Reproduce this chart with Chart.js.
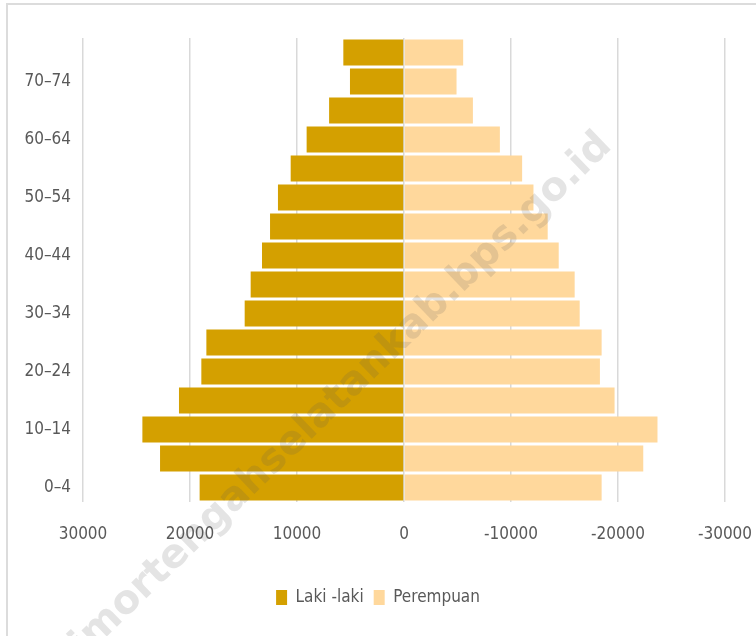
<!DOCTYPE html>
<html>
<head>
<meta charset="utf-8">
<script src="https://cdn.jsdelivr.net/npm/chart.js@4/dist/chart.umd.min.js"></script>
<style>
  html, body { margin: 0; padding: 0; background: #fff; }
  #wrap { position: relative; width: 756px; height: 636px; overflow: hidden; }
  #frame { position: absolute; left: 6px; top: 3px; width: 800px; height: 700px;
           border-left: 2px solid #dcdcdc; border-top: 2px solid #dcdcdc; }
  canvas { position: absolute; left: 0; top: 0; }
</style>
</head>
<body>
<div id="wrap">
  <div id="frame"></div>
  <canvas id="pyramid" width="756" height="636"></canvas>
</div>
<script>
// age groups, bottom to top
const ageGroups = ["0–4","5–9","10–14","15–19","20–24","25–29","30–34","35–39",
                   "40–44","45–49","50–54","55–59","60–64","65–69","70–74","75+"];
// male shown to the left (positive), female to the right (negative)
const lakiLaki  = [19100, 22800, 24450, 21030, 18940, 18470, 14890, 14330,
                   13270, 12520, 11780, 10590, 9100, 7000, 5050, 5670];
const perempuan = [-18470, -22360, -23690, -19680, -18310, -18470, -16420, -15950,
                   -14460, -13430, -12100, -11040, -8960, -6440, -4910, -5530];
const xTicks = [30000, 20000, 10000, 0, -10000, -20000, -30000];

const FONT = "'DejaVu Sans Condensed', 'DejaVu Sans', sans-serif";
const GREY = "#595959";

const watermark = {
  id: "watermark",
  afterDraw(chart) {
    const c = chart.ctx;
    c.save();
    c.translate(606, 140);
    c.rotate(-44 * Math.PI / 180);
    c.font = "bold 40px 'DejaVu Sans', sans-serif";
    c.fillStyle = "rgba(90,90,90,0.16)";
    c.textAlign = "right";
    c.textBaseline = "middle";
    c.fillText("timortengahselatankab.bps.go.id", 0, 0);
    c.restore();
  }
};

new Chart(document.getElementById("pyramid"), {
  type: "bar",
  data: {
    labels: ageGroups,
    datasets: [
      { label: "Laki -laki", data: lakiLaki, backgroundColor: "#d4a000" },
      { label: "Perempuan", data: perempuan, backgroundColor: "#ffd89c" }
    ]
  },
  options: {
    indexAxis: "y",
    responsive: false,
    animation: false,
    devicePixelRatio: 1,
    barPercentage: 0.9,
    categoryPercentage: 1,
    layout: { padding: { top: 38, right: 0, left: 0, bottom: 20 } },
    scales: {
      x: {
        stacked: true,
        reverse: true,
        min: -30000,
        max: 30000,
        afterBuildTicks: s => { s.ticks = xTicks.map(v => ({ value: v })); },
        afterFit: s => { s.height = 77; s.paddingRight = 31; },
        border: { display: false },
        grid: { color: "#d9d9d9", lineWidth: 1.5, drawTicks: false },
        ticks: {
          color: GREY, padding: 22,
          font: { family: FONT, size: 17 },
          callback: v => String(v)
        }
      },
      y: {
        stacked: true,
        reverse: true,
        afterFit: s => { s.width = 83; },
        border: { display: false },
        grid: { display: false },
        ticks: {
          color: GREY, padding: 4, autoSkip: false,
          font: { family: FONT, size: 17 },
          callback: (v, i) => i % 2 === 0 ? ageGroups[i] : ""
        }
      }
    },
    plugins: {
      legend: {
        position: "bottom",
        labels: {
          color: GREY, boxWidth: 11, boxHeight: 15, padding: 10,
          font: { family: FONT, size: 17 }
        }
      },
      tooltip: { enabled: false }
    }
  },
  plugins: [watermark]
});
</script>
</body>
</html>
